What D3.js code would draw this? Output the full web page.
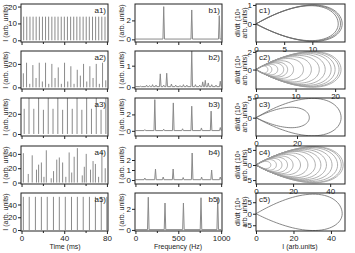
<!DOCTYPE html>
<html>
<head>
<meta charset="utf-8">
<script src="https://cdn.jsdelivr.net/npm/d3@7"></script>
<style>
    body { margin: 0; background: #fff; }
    svg { display: block; font-family: "Liberation Sans", Arial, sans-serif; }
    .axis text { font-size: 8px; fill: #222; }
    .axis line, .axis path { stroke: #222; }
    .title { font-size: 7px; fill: #222; }
    .tag { font-size: 8px; fill: #222; }
</style>
</head>
<body>
<svg id="chart"></svg>
<script>
// ---- time traces: [time (ms), intensity]
const a1Spikes = [[2.0,14],[4.9,14],[7.9,14],[10.8,14],[13.7,14],[16.7,14],[19.6,14],[22.5,14],[25.4,14],
    [28.4,14],[31.3,14],[34.2,14],[37.2,14],[40.1,14],[43.0,14],[46.0,14],[48.9,14],[51.8,14],[54.7,14],
    [57.7,14],[60.6,14],[63.5,14],[66.5,14],[69.4,14],[72.3,14],[75.2,14],[78.2,14]];
const a2Spikes = [[1.7,12],[4.7,21],[7.7,3],[10.6,19],[13.6,8],[16.6,21],[19.5,5],[22.5,21],[25.5,3],
    [28.4,20],[31.4,8],[34.4,17],[37.3,3],[40.3,21],[43.3,5],[46.2,18],[49.2,3],[52.2,15],[55.1,10],
    [58.1,20],[61.1,5],[64.0,18],[67.0,8],[70.0,20],[72.9,3],[75.9,21],[78.9,6]];
const a3Spikes = [[2.5,25],[7.0,40],[11.5,25],[16.0,40],[20.5,24],[25.0,40],[29.5,25],[34.0,40],[38.5,24],
    [43.0,40],[47.5,25],[52.0,40],[56.5,24],[61.0,40],[65.5,25],[70.0,40],[74.5,24],[79.0,40]];
const a4Spikes = [[1.7,41],[6.3,12],[10.0,38],[14.0,18],[16.0,25],[18.6,28],[21.0,8],[23.2,45],[27.8,6],
    [30.0,16],[33.0,32],[35.4,35],[38.5,28],[41.5,8],[44.6,42],[47.0,14],[49.3,36],[52.3,48],[56.9,10],
    [58.8,22],[60.6,40],[64.6,18],[67.0,30],[69.2,26],[72.2,8],[75.3,43],[78.4,20]];
const a5Spikes = [[1.7,52],[7.2,52],[13.0,52],[18.6,52],[24.1,52],[29.9,52],[35.4,52],[41.0,52],
    [46.8,52],[52.3,52],[57.8,52],[63.6,52],[69.2,52],[74.7,52],[79.9,52]];

// ---- spectra: [frequency (Hz), amplitude]
const b1Peaks = [[330,3.45],[657,3.1],[978,2.5]];
const b2Peaks = [[60,0.05],[130,0.1],[165,0.08],[200,0.12],[240,0.1],[290,0.62],[330,0.1],[365,0.65],
    [420,0.15],[470,0.1],[520,0.08],[560,0.12],[600,0.1],[657,1.7],[700,0.12],[750,0.1],[785,0.25],
    [815,0.32],[850,0.2],[890,0.12],[940,0.1],[990,0.28]];
const b3Peaks = [[110,0.15],[226,3.8],[330,0.2],[442,3.4],[550,0.25],[657,3.0],[770,0.35],[883,2.4],[990,0.4]];
const b4Peaks = [[110,0.2],[234,1.1],[324,0.3],[440,1.1],[557,0.25],[662,2.7],[772,0.3],[889,1.0],[990,0.3]];
const b5Peaks = [[150,3.1],[345,2.55],[560,2.55],[765,3.05],[960,3.05]];

// ---- phase loops: [I max, dI/dt max, dI/dt min]
const c1Loops = [[15.3,1.0,-0.92],[15.0,0.98,-0.9],[14.6,0.96,-0.88]];
const c2Loops = [[3,0.4,-0.4],[4,0.5,-0.5],[5.5,0.6,-0.6],[7,0.75,-0.75],[8,0.85,-0.85],[9.5,1.0,-1.0],
    [12,1.25,-1.2],[14,1.45,-1.4],[16,1.6,-1.55],[17.5,1.75,-1.7],[19,1.85,-1.8],[20,1.95,-1.9],
    [21,2.0,-1.95],[21.5,2.05,-2.0]];
const c3Loops = [[41.5,5.0,-4.7],[26,2.7,-2.6]];
const c4Loops = [[8,1.2,-1.2],[11,1.8,-1.7],[14,2.2,-2.1],[17,2.6,-2.5],[20,3.0,-2.9],[24,3.5,-3.3],
    [28,4.0,-3.8],[32,4.5,-4.2],[35,4.8,-4.6],[38,5.2,-4.9],[41,5.5,-5.2],[44,5.8,-5.5],[46,6.0,-5.8],
    [47,6.1,-5.9]];
const c5Loops = [[46,8.5,-7.3]];

const panelTags = ["1)", "2)", "3)", "4)", "5)"];

const svg = d3.select("#chart").attr("width", 355).attr("height", 253);
const cols = { a: [21, 108], b: [135, 222], c: [256, 345] };
const rowTop = [4, 51, 98, 146, 193];
const rowH = 38;

const aY = [
    { domain: [-1, 21.5], ticks: [0, 10, 20] },
    { domain: [-1.4, 31], ticks: [0, 20] },
    { domain: [-2, 35.7], ticks: [0, 20] },
    { domain: [-2, 51], ticks: [0, 20, 40] },
    { domain: [-1.5, 58], ticks: [0, 20, 40] }
];
const bY = [
    { domain: [-0.28, 3.73], ticks: [0, 2] },
    { domain: [-0.08, 1.68], ticks: [0, 1] },
    { domain: [-0.63, 4.0], ticks: [0, 2] },
    { domain: [-0.4, 3.4], ticks: [0, 1, 2] },
    { domain: [-0.1, 3.5], ticks: [0, 2] }
];
const cAx = [
    { x: [0, 15.8], xt: [0, 5, 10], y: [-0.95, 1.05], yt: [0, 1] },
    { x: [0, 22.5], xt: [0, 10, 20], y: [-2.2, 2.1], yt: [0, 2] },
    { x: [0, 43.4], xt: [0, 20], y: [-4.75, 5.1], yt: [0, 5] },
    { x: [0, 48], xt: [0, 20, 40], y: [-6.3, 6.3], yt: [-5, 0, 5] },
    { x: [0, 47.5], xt: [0, 20, 40], y: [-7.5, 9], yt: [-5, 0, 5] }
];

const spikes = [a1Spikes, a2Spikes, a3Spikes, a4Spikes, a5Spikes];
const peaks = [b1Peaks, b2Peaks, b3Peaks, b4Peaks, b5Peaks];
const loops = [c1Loops, c2Loops, c3Loops, c4Loops, c5Loops];

let clipId = 0;

function makePanel(x0, x1, y0, xDomain, yDomain) {
    let p = {};
    p.x = d3.scaleLinear().domain(xDomain).range([x0, x1]);
    p.y = d3.scaleLinear().domain(yDomain).range([y0 + rowH, y0]);
    let id = "clip" + (clipId++);
    svg.append("clipPath").attr("id", id)
        .append("rect").attr("x", x0).attr("y", y0).attr("width", x1 - x0).attr("height", rowH);
    p.plot = svg.append("g").attr("clip-path", `url(#${id})`);
    p.box = () => svg.append("rect")
        .attr("x", x0).attr("y", y0).attr("width", x1 - x0).attr("height", rowH)
        .attr("fill", "none").attr("stroke", "#222").attr("stroke-width", 1);
    return p;
}

function axes(p, xTicks, xMinor, yTicks, showX) {
    let y0 = p.y.range()[0];
    svg.append("g").attr("class", "axis")
        .attr("transform", `translate(0,${y0})`)
        .call(d3.axisBottom(p.x).tickValues(xTicks).tickSize(3).tickPadding(1)
            .tickFormat(showX ? d3.format("d") : ""))
        .call(g => g.select(".domain").remove());
    if (xMinor.length) {
        svg.append("g").attr("class", "axis")
            .attr("transform", `translate(0,${y0})`)
            .call(d3.axisBottom(p.x).tickValues(xMinor).tickSize(2).tickFormat(""))
            .call(g => g.select(".domain").remove());
    }
    svg.append("g").attr("class", "axis")
        .attr("transform", `translate(${p.x.range()[0]},0)`)
        .call(d3.axisLeft(p.y).tickValues(yTicks).tickSize(3).tickPadding(1).tickFormat(d3.format("d")))
        .call(g => g.select(".domain").remove());
}

function loopPath(p, L) {
    let pts = d3.range(0, 2 * Math.PI + 0.001, Math.PI / 40).map(t => {
        let s = Math.sin(t) * Math.sin(t / 2) / 0.7698;
        let amp = s >= 0 ? L[1] : -L[2];
        return [L[0] * (1 - Math.cos(t)) / 2, amp * s];
    });
    return d3.line().x(d => p.x(d[0])).y(d => p.y(d[1]))(pts);
}

for (let r = 0; r < 5; r++) {
    let top = rowTop[r];
    let last = r === 4;

    // column a: time traces
    let pa = makePanel(cols.a[0], cols.a[1], top, [-0.5, 81], aY[r].domain);
    pa.plot.selectAll("line").data(spikes[r]).join("line")
        .attr("x1", d => pa.x(d[0])).attr("x2", d => pa.x(d[0]))
        .attr("y1", pa.y(0)).attr("y2", d => pa.y(d[1]))
        .attr("stroke", "#8a8a8a").attr("stroke-width", 1);
    pa.box();
    axes(pa, [0, 40, 80], [20, 60], aY[r].ticks, last);
    svg.append("text").attr("class", "tag").attr("text-anchor", "end")
        .attr("x", cols.a[1] - 2).attr("y", top + 9).text("a" + panelTags[r]);

    // column b: spectra
    let pb = makePanel(cols.b[0], cols.b[1], top, [-5, 1010], bY[r].domain);
    let pts = [[0, 0.03]];
    peaks[r].forEach(d => { pts.push([d[0] - 9, 0.03], [d[0], d[1]], [d[0] + 9, 0.03]); });
    pts.push([1000, 0.03]);
    pb.plot.append("path").datum(pts)
        .attr("fill", "none").attr("stroke", "#8a8a8a").attr("stroke-width", 1)
        .attr("d", d3.line().x(d => pb.x(d[0])).y(d => pb.y(d[1])));
    pb.box();
    axes(pb, [0, 500, 1000], [250, 750], bY[r].ticks, last);
    svg.append("text").attr("class", "tag").attr("text-anchor", "end")
        .attr("x", cols.b[1] - 2).attr("y", top + 9).text("b" + panelTags[r]);

    // column c: phase portraits
    let pc = makePanel(cols.c[0], cols.c[1], top, cAx[r].x, cAx[r].y);
    pc.plot.selectAll("path").data(loops[r]).join("path")
        .attr("fill", "none").attr("stroke", r === 1 || r === 3 ? "#9a9a9a" : "#6a6a6a")
        .attr("stroke-width", 0.8)
        .attr("d", d => loopPath(pc, d));
    pc.box();
    axes(pc, cAx[r].xt, [], cAx[r].yt, true);
    svg.append("text").attr("class", "tag")
        .attr("x", cols.c[0] + 3).attr("y", top + 9).text("c" + panelTags[r]);

    // y titles
    let cy = top + rowH / 2;
    svg.append("text").attr("class", "title").attr("text-anchor", "middle")
        .attr("transform", `translate(8,${cy}) rotate(-90)`).text("I (arb. units)");
    svg.append("text").attr("class", "title").attr("text-anchor", "middle")
        .attr("transform", `translate(124,${cy}) rotate(-90)`).text("I (arb. units)");
    svg.append("text").attr("class", "title").attr("text-anchor", "middle")
        .attr("transform", `translate(240,${cy}) rotate(-90)`).text("dI/dt (10\u00b3");
    svg.append("text").attr("class", "title").attr("text-anchor", "middle")
        .attr("transform", `translate(247,${cy}) rotate(-90)`).text("arb. units)");
}

// x titles
svg.append("text").attr("class", "title").attr("text-anchor", "middle")
    .attr("x", 65).attr("y", 249).text("Time (ms)");
svg.append("text").attr("class", "title").attr("text-anchor", "middle")
    .attr("x", 178).attr("y", 249).text("Frequency (Hz)");
svg.append("text").attr("class", "title").attr("text-anchor", "middle")
    .attr("x", 300).attr("y", 249).text("I (arb.units)");
</script>
</body>
</html>
